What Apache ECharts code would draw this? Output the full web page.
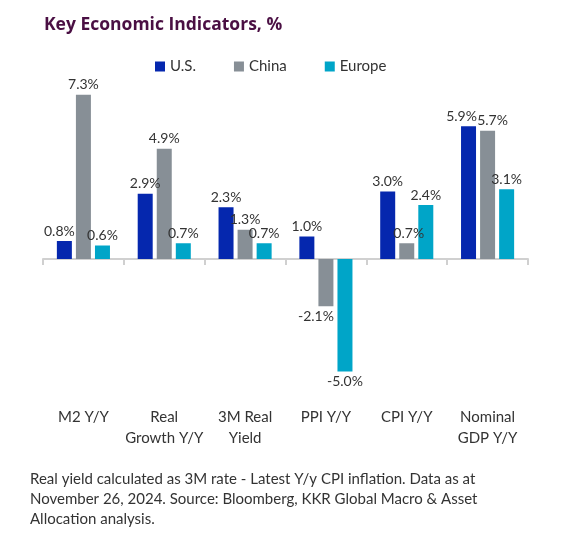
<!DOCTYPE html>
<html><head><meta charset="utf-8">
<script src="https://cdn.jsdelivr.net/npm/echarts@6/dist/echarts.min.js"></script>
<style>html,body{margin:0;padding:0;background:#fff}#c{width:581px;height:535px}</style>
</head><body><div id="c"></div>
<script>
const categories = ['M2 Y/Y', 'Real\nGrowth Y/Y', '3M Real\nYield', 'PPI Y/Y', 'CPI Y/Y', 'Nominal\nGDP Y/Y'];
const usValues = [0.8, 2.9, 2.3, 1.0, 3.0, 5.9];
const chinaValues = [7.3, 4.9, 1.3, -2.1, 0.7, 5.7];
const europeValues = [0.6, 0.7, 0.7, -5.0, 2.4, 3.1];
const seriesNames = ['U.S.', 'China', 'Europe'];
const colors = ['#0527ae', '#878f96', '#00a5c8'];
const footnote = 'Real yield calculated as 3M rate - Latest Y/y CPI inflation. Data as at\nNovember 26, 2024. Source: Bloomberg, KKR Global Macro & Asset\nAllocation analysis.';

const FONT = 'Lato';
function mk(name, vals, color, shifts) {
  return {
    name, type: 'bar', xAxisIndex: 0, barWidth: 15, barGap: '27%',
    itemStyle: { color },
    data: vals.map((v, i) => ({ value: v, label: { position: v < 0 ? 'bottom' : 'top', offset: [shifts[i] || 0, 0] } })),
    label: { show: true, distance: 3, fontFamily: FONT, fontSize: 14, color: '#333',
      formatter: p => p.value.toFixed(1) + '%' }
  };
}
const chart = echarts.init(document.getElementById('c'));
chart.setOption({
  animation: false,
  title: { text: 'Key Economic Indicators, %', left: 39, top: 11,
    textStyle: { fontFamily: 'Open Sans', fontWeight: 'bold', fontSize: 17.5, color: '#4a0f43' } },
  legend: { top: 54, left: 150, itemWidth: 10, itemHeight: 10, itemGap: 38, icon: 'rect',
    textStyle: { fontFamily: FONT, fontSize: 15, color: '#333' }, data: seriesNames },
  grid: { left: 43, right: 53, top: 79, bottom: 141 },
  xAxis: [
    { type: 'category', data: categories, position: 'bottom',
      axisLine: { onZero: true, lineStyle: { color: '#d0d0d0', width: 2 } },
      axisTick: { show: true, length: 6, lineStyle: { color: '#d0d0d0', width: 2 } },
      axisLabel: { show: false } },
    { type: 'category', data: categories, position: 'bottom',
      axisLine: { show: false }, axisTick: { show: false },
      axisLabel: { interval: 0, margin: 13, fontFamily: FONT, fontSize: 15, color: '#333', lineHeight: 21 } }
  ],
  yAxis: { type: 'value', min: -6, max: 8, show: false, splitLine: { show: false } },
  series: [
    mk(seriesNames[0], usValues, colors[0], [-5, 0, 0, 0, 0, -7]),
    mk(seriesNames[1], chinaValues, colors[1], [0, 0, 0, -10, 2, 5]),
    mk(seriesNames[2], europeValues, colors[2], [0, 0, 0, 0, 0, 0])
  ],
  graphic: [{ type: 'text', left: 30, top: 469,
    style: { text: footnote, fontFamily: FONT, fontSize: 15, lineHeight: 20, fill: '#333' } }]
});
</script></body></html>
